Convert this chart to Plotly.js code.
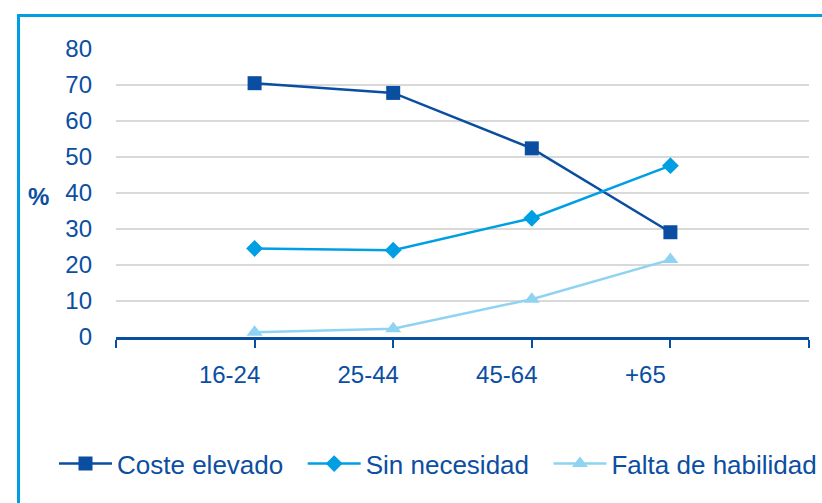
<!DOCTYPE html>
<html>
<head>
<meta charset="utf-8">
<script src="https://cdn.plot.ly/plotly-3.0.1.min.js"></script>
<style>
html,body{margin:0;padding:0;background:#fff;overflow:hidden;}
#frame{position:absolute;left:17px;top:14px;width:830px;height:520px;border:3px solid #009fe3;box-sizing:border-box;pointer-events:none;z-index:5;}
#chart{position:absolute;left:0;top:0;width:822px;height:503px;}
</style>
</head>
<body>
<div id="chart"></div>
<div id="frame"></div>
<script>
const categories = ['16-24', '25-44', '45-64', '+65'];
const costeElevado = [70.5, 67.8, 52.4, 29.1];
const sinNecesidad = [24.6, 24.1, 33.0, 47.6];
const faltaHabilidad = [1.3, 2.3, 10.5, 21.5];
const seriesNames = ['Coste elevado', 'Sin necesidad', 'Falta de habilidad'];
const yTicks = [0, 10, 20, 30, 40, 50, 60, 70, 80];

const xIdx = categories.map((c, i) => i);
const tickvals = [-1].concat(xIdx, [categories.length]);
const ticktext = [''].concat(categories, ['']);
// trailing non-breaking spaces only widen the gap between legend entries
const pad = '\u00a0\u00a0';

const textColor = '#0b4ea2';
const traces = [
  {x: xIdx, y: costeElevado, name: seriesNames[0] + pad, mode: 'lines+markers',
   line: {color: '#0a4ea2', width: 2.5}, marker: {symbol: 'square', size: 14, color: '#0a4ea2'}},
  {x: xIdx, y: sinNecesidad, name: seriesNames[1] + pad, mode: 'lines+markers',
   line: {color: '#009fe3', width: 2.5}, marker: {symbol: 'diamond', size: 13, color: '#009fe3'}},
  {x: xIdx, y: faltaHabilidad, name: seriesNames[2], mode: 'lines+markers',
   line: {color: '#8fd3f2', width: 2.5}, marker: {symbol: 'triangle-up', size: 14, color: '#8fd3f2'}}
];

const layout = {
  width: 822, height: 503,
  margin: {l: 116, r: 13, t: 49, b: 166},
  paper_bgcolor: '#fff', plot_bgcolor: '#fff',
  font: {family: 'Liberation Sans, Arial, sans-serif', size: 24, color: textColor},
  showlegend: true,
  legend: {orientation: 'h', x: -0.08, xanchor: 'left', y: -0.44, yanchor: 'middle',
           font: {size: 26, color: textColor}, itemwidth: 53, tracegroupgap: 0},
  xaxis: {range: [-1, categories.length], tickmode: 'array', tickvals: tickvals, ticktext: ticktext,
          showgrid: false, zeroline: false, showline: true, linecolor: '#0a4ea2', linewidth: 2.5,
          ticks: 'outside', ticklen: 8, tickwidth: 2, tickcolor: '#0a4ea2',
          ticklabelshift: -25, ticklabelstandoff: 7, tickfont: {size: 24, color: textColor}},
  yaxis: {range: [0, 80], tickmode: 'array', tickvals: yTicks, showgrid: true, gridcolor: '#d9d9d9', gridwidth: 2,
          zeroline: false, showline: false, ticks: '', ticklabelstandoff: 23,
          tickfont: {size: 24, color: textColor}},
  annotations: [{text: '<b>%</b>', xref: 'paper', yref: 'y', x: -0.112, y: 39, showarrow: false,
                 xanchor: 'center', yanchor: 'middle', font: {size: 24, color: textColor}}]
};

Plotly.newPlot('chart', traces, layout, {staticPlot: true, displayModeBar: false});
</script>
</body>
</html>
